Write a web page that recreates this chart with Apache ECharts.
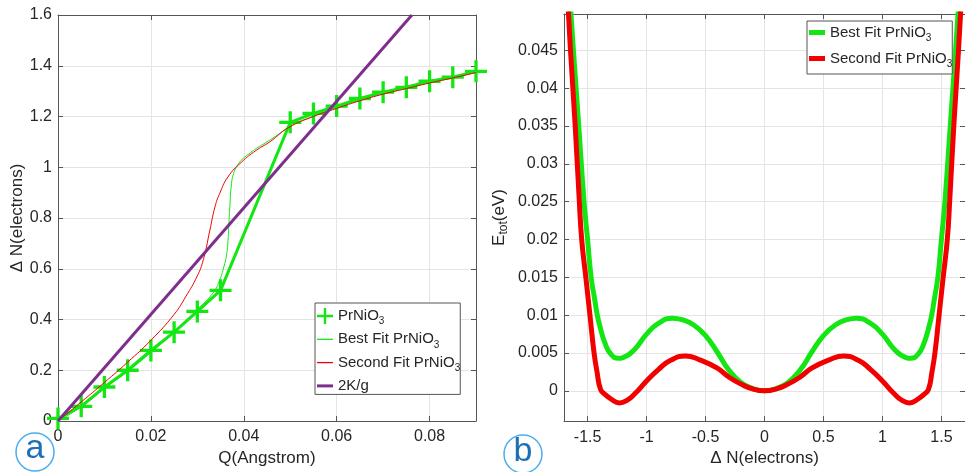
<!DOCTYPE html>
<html><head><meta charset="utf-8">
<script src="https://cdn.jsdelivr.net/npm/echarts@6/dist/echarts.min.js"></script>
<style>html,body{margin:0;padding:0;background:#fff}#c{width:965px;height:472px}</style>
</head><body><div id="c"></div>
<script>
// ---------- Panel (a) data ----------
const qData = [0, 0.005, 0.01, 0.015, 0.02, 0.025, 0.03, 0.035, 0.05, 0.055, 0.06, 0.065, 0.07, 0.075, 0.08, 0.085, 0.09];
const nData = [0.01, 0.058, 0.134, 0.2, 0.278, 0.35, 0.432, 0.515, 1.177, 1.212, 1.241, 1.271, 1.296, 1.315, 1.339, 1.355, 1.378];

const qBest = [0, 0.005, 0.01, 0.015, 0.02, 0.025, 0.03, 0.0334, 0.0348, 0.0357, 0.0363, 0.0366, 0.0368, 0.037, 0.03735, 0.0378, 0.0384, 0.0392, 0.0402, 0.0415, 0.0427, 0.045, 0.0475, 0.05, 0.055, 0.06, 0.065, 0.07, 0.075, 0.08, 0.085, 0.09];
const nBest = [0, 0.056, 0.128, 0.195, 0.27, 0.35, 0.44, 0.505, 0.555, 0.607, 0.655, 0.71, 0.78, 0.845, 0.935, 0.975, 1.0, 1.022, 1.04, 1.058, 1.074, 1.1, 1.13, 1.162, 1.202, 1.236, 1.265, 1.29, 1.313, 1.335, 1.355, 1.375];

const qSecond = [0, 0.005, 0.01, 0.015, 0.02, 0.025, 0.0275, 0.03, 0.0313, 0.0327, 0.0338, 0.0348, 0.0366, 0.0395, 0.0427, 0.0456, 0.0497, 0.055, 0.06, 0.065, 0.07, 0.075, 0.08, 0.085, 0.09];
const nSecond = [0, 0.075, 0.152, 0.232, 0.318, 0.42, 0.49, 0.572, 0.636, 0.752, 0.844, 0.896, 0.962, 1.02, 1.067, 1.1, 1.157, 1.2, 1.232, 1.262, 1.288, 1.31, 1.332, 1.352, 1.373];

const qLine = [0, 0.0762];
const nLine = [0, 1.6];

const xTicksA = [0, 0.02, 0.04, 0.06, 0.08];
const yTicksA = [0, 0.2, 0.4, 0.6, 0.8, 1, 1.2, 1.4, 1.6];

// ---------- Panel (b) data ----------
const dnGreen = [-1.655, -1.62, -1.575, -1.53, -1.5, -1.47, -1.44, -1.42, -1.4, -1.35, -1.3, -1.24, -1.2, -1.1, -1.0, -0.9, -0.78, -0.7, -0.6, -0.5, -0.4, -0.3, -0.2, -0.1, 0, 0.1, 0.2, 0.3, 0.4, 0.5, 0.6, 0.7, 0.78, 0.9, 1.0, 1.1, 1.2, 1.24, 1.3, 1.35, 1.4, 1.42, 1.44, 1.47, 1.5, 1.53, 1.575, 1.62, 1.655];
const eGreen = [0.053, 0.045, 0.035, 0.025, 0.02, 0.015, 0.0121, 0.0102, 0.0088, 0.0062, 0.0048, 0.0043, 0.0044, 0.0055, 0.0075, 0.0089, 0.0096, 0.0094, 0.0087, 0.0073, 0.0051, 0.0027, 0.0011, 0.0003, 0, 0.0003, 0.0011, 0.0027, 0.0051, 0.0073, 0.0087, 0.0094, 0.0096, 0.0089, 0.0075, 0.0055, 0.0044, 0.0043, 0.0048, 0.0062, 0.0088, 0.0102, 0.0121, 0.015, 0.02, 0.025, 0.035, 0.045, 0.053];

const dnRed = [-1.67, -1.645, -1.605, -1.57, -1.55, -1.515, -1.48, -1.445, -1.42, -1.39, -1.35, -1.3, -1.23, -1.16, -1.1, -1.0, -0.9, -0.8, -0.67, -0.55, -0.4, -0.3, -0.2, -0.1, 0, 0.1, 0.2, 0.3, 0.4, 0.55, 0.67, 0.8, 0.9, 1.0, 1.1, 1.16, 1.23, 1.3, 1.35, 1.39, 1.42, 1.445, 1.48, 1.515, 1.55, 1.57, 1.605, 1.645, 1.67];
const eRed = [0.052, 0.045, 0.035, 0.025, 0.02, 0.015, 0.01, 0.005, 0.0025, 0.0002, -0.0005, -0.0011, -0.0016, -0.0012, -0.0004, 0.0013, 0.0028, 0.004, 0.0046, 0.0041, 0.003, 0.0018, 0.0009, 0.00025, 0, 0.00025, 0.0009, 0.0018, 0.003, 0.0041, 0.0046, 0.004, 0.0028, 0.0013, -0.0004, -0.0012, -0.0016, -0.0011, -0.0005, 0.0002, 0.0025, 0.005, 0.01, 0.015, 0.02, 0.025, 0.035, 0.045, 0.052];

const xTicksB = [-1.5, -1, -0.5, 0, 0.5, 1, 1.5];
const yTicksB = [0, 0.005, 0.01, 0.015, 0.02, 0.025, 0.03, 0.035, 0.04, 0.045];

// ---------- styling ----------
const FONT = '"Liberation Sans", Arial, Helvetica, sans-serif';
const TXT = '#262626';
const AXC = '#555555';
const GRIDC = '#e4e4e4';
const GREEN = '#14e614';
const RED = '#f20000';
const PURPLE = '#7e2f8e';
const PLUS = 'path://M6.8,0H9.2V6.8H16V9.2H9.2V16H6.8V9.2H0V6.8H6.8Z';

const zip = (a, b) => a.map((v, i) => [v, b[i]]);

function mkX(grid, min, max, ticks, pos, main, name) {
  return {
    type: 'value', gridIndex: grid, min: min, max: max, position: pos,
    axisLine: { show: true, onZero: false, lineStyle: { color: AXC, width: 1 } },
    axisTick: { show: true, inside: true, length: 5, customValues: ticks, lineStyle: { color: AXC } },
    axisLabel: { show: main, customValues: ticks, fontSize: 16, color: TXT, fontFamily: FONT, margin: 8 },
    splitLine: { show: main, lineStyle: { color: GRIDC, width: 1 } },
    name: main ? name : '', nameLocation: 'middle', nameGap: 27,
    nameTextStyle: { fontSize: 17, color: TXT, fontFamily: FONT }
  };
}
function mkY(grid, min, max, ticks, pos, main, name, gap, rich) {
  const o = {
    type: 'value', gridIndex: grid, min: min, max: max, position: pos,
    axisLine: { show: true, onZero: false, lineStyle: { color: AXC, width: 1 } },
    axisTick: { show: true, inside: true, length: 5, customValues: ticks, lineStyle: { color: AXC } },
    axisLabel: { show: main, customValues: ticks, fontSize: 16, color: TXT, fontFamily: FONT, margin: 6 },
    splitLine: { show: main, lineStyle: { color: GRIDC, width: 1 } },
    name: main ? name : '', nameLocation: 'middle', nameGap: gap,
    nameTextStyle: { fontSize: 17, color: TXT, fontFamily: FONT }
  };
  if (rich) o.nameTextStyle.rich = rich;
  return o;
}

const legendRich = {
  n: { fontSize: 15, lineHeight: 22, color: TXT, fontFamily: FONT },
  s: { fontSize: 10, padding: [11, 0, 0, 0], color: TXT, fontFamily: FONT }
};
const legendFmt = function (name) {
  if (name.indexOf('PrNiO3') >= 0) return '{n|' + name.replace('PrNiO3', 'PrNiO') + '}{s|3}';
  return '{n|' + name + '}';
};

const option = {
  animation: false,
  backgroundColor: '#ffffff',
  textStyle: { fontFamily: FONT },
  grid: [
    { left: 58, top: 15, width: 418, height: 406 },
    { left: 564, top: 14, width: 406, height: 408 }
  ],
  xAxis: [
    mkX(0, 0, 0.09, xTicksA, 'bottom', true, 'Q(Angstrom)'),
    mkX(0, 0, 0.09, xTicksA, 'top', false, ''),
    mkX(1, -1.7, 1.7, xTicksB, 'bottom', true, 'Δ N(electrons)'),
    mkX(1, -1.7, 1.7, xTicksB, 'top', false, '')
  ],
  yAxis: [
    mkY(0, 0, 1.6, yTicksA, 'left', true, 'Δ N(electrons)', 30),
    mkY(0, 0, 1.6, yTicksA, 'right', false, '', 0),
    mkY(1, -0.004, 0.0498, yTicksB, 'left', true, '{e|E}{t|tot}{e|(eV)}', 54, {
      e: { fontSize: 17, color: TXT, fontFamily: FONT, lineHeight: 20 },
      t: { fontSize: 12, color: TXT, fontFamily: FONT, padding: [9, 0, 0, 0] }
    }),
    mkY(1, -0.004, 0.0498, yTicksB, 'right', false, '', 0)
  ],
  legend: [
    {
      orient: 'vertical', left: 315, top: 303, padding: [5, 0, 1, 2], itemGap: 5.3,
      itemWidth: 16, itemHeight: 16, itemTextGap: 2,
      borderColor: AXC, borderWidth: 1, backgroundColor: '#fff', selectedMode: false,
      itemStyle: { borderWidth: 0 },
      textStyle: { fontSize: 15, color: TXT, fontFamily: FONT, rich: legendRich },
      formatter: legendFmt,
      data: [
        { name: 'PrNiO3', icon: PLUS },
        { name: 'Best Fit PrNiO3', icon: 'path://M0,0H16V1.3H0Z' },
        { name: 'Second Fit PrNiO3', icon: 'path://M0,0H16V1.3H0Z' },
        { name: '2K/g', icon: 'path://M0,0H16V3H0Z' }
      ]
    },
    {
      orient: 'vertical', left: 807, top: 21, padding: [4, 0, 5, 2], itemGap: 8,
      itemWidth: 16, itemHeight: 16, itemTextGap: 2,
      borderColor: AXC, borderWidth: 1, backgroundColor: '#fff', selectedMode: false,
      itemStyle: { borderWidth: 0 },
      textStyle: { fontSize: 15, color: TXT, fontFamily: FONT, rich: legendRich },
      formatter: legendFmt,
      data: [
        { name: 'Best Fit PrNiO3', icon: 'path://M0,0H16V5H0Z' },
        { name: 'Second Fit PrNiO3', icon: 'path://M0,0H16V5H0Z' }
      ]
    }
  ],
  series: [
    {
      name: 'PrNiO3', type: 'line', xAxisIndex: 0, yAxisIndex: 0,
      data: zip(qData, nData), symbol: PLUS, symbolSize: 22, showSymbol: true,
      lineStyle: { width: 3, color: GREEN }, itemStyle: { color: GREEN, borderWidth: 0 }, z: 3
    },
    {
      name: 'Best Fit PrNiO3', type: 'line', xAxisIndex: 0, yAxisIndex: 0,
      data: zip(qBest, nBest), symbol: 'none', smooth: true,
      lineStyle: { width: 1, color: GREEN }, itemStyle: { color: GREEN }, z: 4
    },
    {
      name: 'Second Fit PrNiO3', type: 'line', xAxisIndex: 0, yAxisIndex: 0,
      data: zip(qSecond, nSecond), symbol: 'none', smooth: true,
      lineStyle: { width: 1, color: RED }, itemStyle: { color: RED }, z: 5
    },
    {
      name: '2K/g', type: 'line', xAxisIndex: 0, yAxisIndex: 0,
      data: zip(qLine, nLine), symbol: 'none',
      lineStyle: { width: 3, color: PURPLE }, itemStyle: { color: PURPLE }, z: 6
    },
    {
      name: 'Best Fit PrNiO3', type: 'line', xAxisIndex: 2, yAxisIndex: 2,
      data: zip(dnGreen, eGreen), symbol: 'none', smooth: true,
      lineStyle: { width: 5, color: GREEN }, itemStyle: { color: GREEN }, z: 3
    },
    {
      name: 'Second Fit PrNiO3', type: 'line', xAxisIndex: 2, yAxisIndex: 2,
      data: zip(dnRed, eRed), symbol: 'none', smooth: true,
      lineStyle: { width: 5, color: RED }, itemStyle: { color: RED }, z: 4
    }
  ],
  graphic: [
    { type: 'circle', shape: { cx: 35, cy: 452, r: 19 }, style: { fill: '#fff', stroke: '#4aaef0', lineWidth: 1.5 }, z: 10 },
    { type: 'text', x: 35, y: 449, style: { text: 'a', font: '34px ' + FONT, fill: '#1c6fb5', align: 'center', verticalAlign: 'middle' }, z: 11 },
    { type: 'circle', shape: { cx: 523, cy: 454, r: 19 }, style: { fill: '#fff', stroke: '#4aaef0', lineWidth: 1.5 }, z: 10 },
    { type: 'text', x: 523, y: 452, style: { text: 'b', font: '34px ' + FONT, fill: '#1c6fb5', align: 'center', verticalAlign: 'middle' }, z: 11 }
  ]
};

const chart = echarts.init(document.getElementById('c'), null, { renderer: 'canvas' });
chart.setOption(option);
</script>
</body></html>
